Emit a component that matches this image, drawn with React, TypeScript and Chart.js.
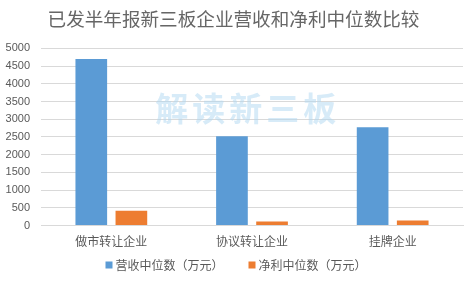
import React, { useEffect, useRef } from "react";
import { Chart, registerables } from "chart.js";

Chart.register(...registerables);

const titleText = "已发半年报新三板企业营收和净利中位数比较";
const categories = ["做市转让企业", "协议转让企业", "挂牌企业"];
const revenueLabel = "营收中位数（万元）";
const profitLabel = "净利中位数（万元）";
const revenueValues = [4700, 2520, 2775];
const profitValues = [420, 115, 145];
const watermarkText = "解读新三板";

const FONT = "'Noto Sans CJK SC', 'Microsoft YaHei', sans-serif";
const BLUE = "#5b9bd5";
const ORANGE = "#ed7d31";

const watermarkPlugin = {
  id: "watermark",
  beforeDatasetsDraw(chart: any) {
    const { ctx, chartArea } = chart;
    ctx.save();
    ctx.font = `bold 33px ${FONT}`;
    ctx.fillStyle = "rgba(175, 215, 242, 0.5)";
    ctx.textAlign = "center";
    ctx.textBaseline = "middle";
    (ctx as any).letterSpacing = "4px";
    const cx = chartArea.left + (chartArea.right - chartArea.left) * 0.49;
    ctx.fillText(watermarkText, cx, 108);
    ctx.restore();
  },
};

const legendPlugin = {
  id: "customLegend",
  afterDraw(chart: any) {
    const { ctx, width } = chart;
    const items = chart.data.datasets.map((d: any) => ({
      text: d.label as string,
      color: d.backgroundColor as string,
    }));
    ctx.save();
    ctx.font = `12px ${FONT}`;
    ctx.textBaseline = "middle";
    ctx.textAlign = "left";
    const box = 7;
    const gapBoxText = 3;
    const gapItems = 25;
    const widths = items.map((it: any) => box + gapBoxText + ctx.measureText(it.text).width);
    const total = widths.reduce((a: number, b: number) => a + b, 0) + gapItems * (items.length - 1);
    let x = (width - total) / 2;
    const y = 265;
    items.forEach((it: any, i: number) => {
      ctx.fillStyle = it.color;
      ctx.fillRect(x, y - box / 2, box, box);
      ctx.fillStyle = "#595959";
      ctx.fillText(it.text, x + box + gapBoxText, y);
      x += widths[i] + gapItems;
    });
    ctx.restore();
  },
};

export default function App() {
  const ref = useRef<HTMLCanvasElement | null>(null);
  useEffect(() => {
    document.body.style.margin = "0";
    const chart = new Chart(ref.current as HTMLCanvasElement, {
      type: "bar",
      data: {
        labels: categories,
        datasets: [
          {
            label: revenueLabel,
            data: revenueValues,
            backgroundColor: BLUE,
            barPercentage: 0.79,
            categoryPercentage: 0.57,
          },
          {
            label: profitLabel,
            data: profitValues,
            backgroundColor: ORANGE,
            barPercentage: 0.79,
            categoryPercentage: 0.57,
          },
        ],
      },
      options: {
        animation: false,
        responsive: false,
        maintainAspectRatio: false,
        layout: { padding: { left: 4, right: 9, top: 0, bottom: 29 } },
        plugins: {
          title: {
            display: true,
            text: titleText,
            color: "#666666",
            font: { family: FONT, size: 18.6, weight: "normal" },
            padding: { top: 8, bottom: 18 },
          },
          legend: { display: false },
          tooltip: { enabled: false },
        },
        scales: {
          x: {
            grid: { display: false, drawTicks: false },
            border: { display: true, color: "#d9d9d9" },
            ticks: {
              color: "#595959",
              padding: 9,
              font: { family: FONT, size: 12 },
            },
          },
          y: {
            min: 0,
            max: 5000,
            grid: { color: "#d9d9d9", drawTicks: false },
            border: { display: false },
            afterFit: (scale: any) => {
              scale.width = 37;
            },
            ticks: {
              stepSize: 500,
              autoSkip: false,
              color: "#595959",
              padding: 11,
              font: { family: "'Liberation Sans', sans-serif", size: 11 },
              callback: (v: any) => String(v),
            },
          },
        },
      },
      plugins: [watermarkPlugin, legendPlugin],
    });
    return () => chart.destroy();
  }, []);
  return (
    <div style={{ width: 472, height: 287, background: "#fff" }}>
      <canvas ref={ref} width={472} height={287} />
    </div>
  );
}
